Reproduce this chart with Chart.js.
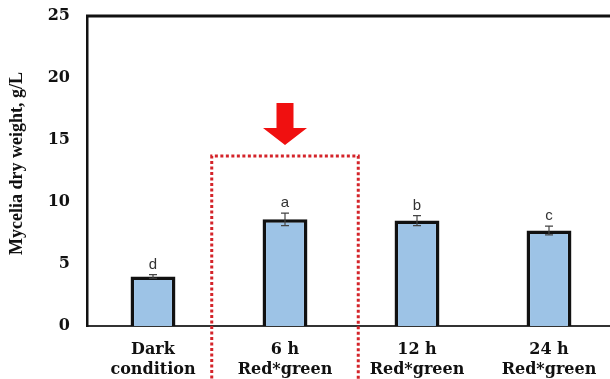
<!DOCTYPE html>
<html>
<head>
<meta charset="utf-8">
<script src="https://cdn.jsdelivr.net/npm/chart.js@4/dist/chart.umd.min.js"></script>
<style>
  html, body { margin: 0; padding: 0; background: #fff; overflow: hidden; }
  #wrap { width: 618px; height: 379px; }
</style>
</head>
<body>
<div id="wrap"><canvas id="chart" width="618" height="379"></canvas></div>
<script>
// Treatments (light conditions)
const categories = [
  ['Dark', 'condition'],
  ['6 h', 'Red*green'],
  ['12 h', 'Red*green'],
  ['24 h', 'Red*green']
];
// Mycelial dry weight (g/L) and standard deviation
const dryWeight = [4.0, 8.6, 8.5, 7.7];
const errors = [0.15, 0.5, 0.4, 0.35];
// Significance letters
const groups = ['d', 'a', 'b', 'c'];
// Y-axis ticks
const yMin = 0, yMax = 25, yStep = 5;
const yTitle = 'Mycelia dry weight, g/L';

// Highlighted treatment (index into categories) and the height the box reaches
const highlightIndex = 1;
const highlightTop = 13.7;

const serifBold = { family: '"DejaVu Serif", serif', size: 16, weight: 'bold' };

// Error bars, letters, axis title and the frame line on top of the plot
const decorations = {
  id: 'decorations',
  afterDatasetsDraw(chart) {
    const { ctx, chartArea } = chart;
    const x = chart.scales.x, y = chart.scales.y;
    ctx.save();

    // frame line across the top
    ctx.strokeStyle = '#111';
    ctx.lineWidth = 3;
    ctx.beginPath();
    ctx.moveTo(chartArea.left - 1, chartArea.top);
    ctx.lineTo(chartArea.right + 5, chartArea.top);
    ctx.stroke();

    // error bars
    ctx.strokeStyle = '#444';
    ctx.lineWidth = 1.2;
    dryWeight.forEach((v, i) => {
      const cx = x.getPixelForValue(i);
      const yt = y.getPixelForValue(v + errors[i]);
      const yb = y.getPixelForValue(v - errors[i]);
      ctx.beginPath();
      ctx.moveTo(cx, yt); ctx.lineTo(cx, yb);
      ctx.moveTo(cx - 4, yt); ctx.lineTo(cx + 4, yt);
      ctx.moveTo(cx - 4, yb); ctx.lineTo(cx + 4, yb);
      ctx.stroke();

      // significance letter
      ctx.fillStyle = '#333';
      ctx.font = '15px "Liberation Sans", Arial, sans-serif';
      ctx.textAlign = 'center';
      ctx.textBaseline = 'alphabetic';
      ctx.fillText(groups[i], cx, yt - 6);
    });

    // y-axis title
    ctx.translate(17, y.getPixelForValue(13.1));
    ctx.rotate(-Math.PI / 2);
    ctx.fillStyle = '#111';
    ctx.font = 'bold 18px "Liberation Serif", "Times New Roman", serif';
    ctx.textAlign = 'center';
    ctx.textBaseline = 'middle';
    ctx.fillText(yTitle, 0, 0);
    ctx.restore();
  },
  afterDraw(chart) {
    const { ctx } = chart;
    const x = chart.scales.x, y = chart.scales.y;
    const cx = x.getPixelForValue(highlightIndex);
    const catW = x.getPixelForValue(1) - x.getPixelForValue(0);
    const half = catW * 0.555;
    const top = y.getPixelForValue(highlightTop);
    ctx.save();

    // dotted box around the highlighted treatment
    ctx.strokeStyle = '#d4242a';
    ctx.lineWidth = 3;
    ctx.setLineDash([3, 2.5]);
    ctx.beginPath();
    ctx.moveTo(cx - half, chart.height + 5);
    ctx.lineTo(cx - half, top);
    ctx.lineTo(cx + half, top);
    ctx.lineTo(cx + half, chart.height + 5);
    ctx.stroke();
    ctx.setLineDash([]);

    // arrow pointing at the box
    const tip = top - 11;
    ctx.fillStyle = '#f01010';
    ctx.beginPath();
    ctx.moveTo(cx - 8.5, tip - 42);
    ctx.lineTo(cx + 8.5, tip - 42);
    ctx.lineTo(cx + 8.5, tip - 17);
    ctx.lineTo(cx + 22, tip - 17);
    ctx.lineTo(cx, tip);
    ctx.lineTo(cx - 22, tip - 17);
    ctx.lineTo(cx - 8.5, tip - 17);
    ctx.closePath();
    ctx.fill();
    ctx.restore();
  }
};

new Chart(document.getElementById('chart'), {
  type: 'bar',
  data: {
    labels: categories,
    datasets: [{
      data: dryWeight,
      backgroundColor: '#9dc3e6',
      borderColor: '#111',
      borderWidth: 3.5,
      borderSkipped: 'bottom',
      categoryPercentage: 1,
      barPercentage: 0.34
    }]
  },
  options: {
    responsive: false,
    animation: false,
    devicePixelRatio: 1,
    layout: { padding: { left: 0, top: 16, right: 3, bottom: 0 } },
    plugins: {
      legend: { display: false },
      tooltip: { enabled: false }
    },
    scales: {
      x: {
        grid: { display: false, drawTicks: false },
        border: { display: true, color: '#333', width: 2 },
        ticks: {
          color: '#111',
          font: { ...serifBold, lineHeight: 1.3 },
          padding: 13,
          maxRotation: 0,
          autoSkip: false
        },
        afterFit(scale) { scale.height = 53; }
      },
      y: {
        min: yMin,
        max: yMax,
        grid: { display: false, drawTicks: false },
        border: { display: true, color: '#111', width: 2.5 },
        ticks: {
          stepSize: yStep,
          color: '#111',
          font: serifBold,
          padding: 17
        },
        afterFit(scale) {
          scale.width = 87;
          scale.paddingTop = 0;
          scale.paddingBottom = 0;
        }
      }
    }
  },
  plugins: [decorations]
});
</script>
</body>
</html>
